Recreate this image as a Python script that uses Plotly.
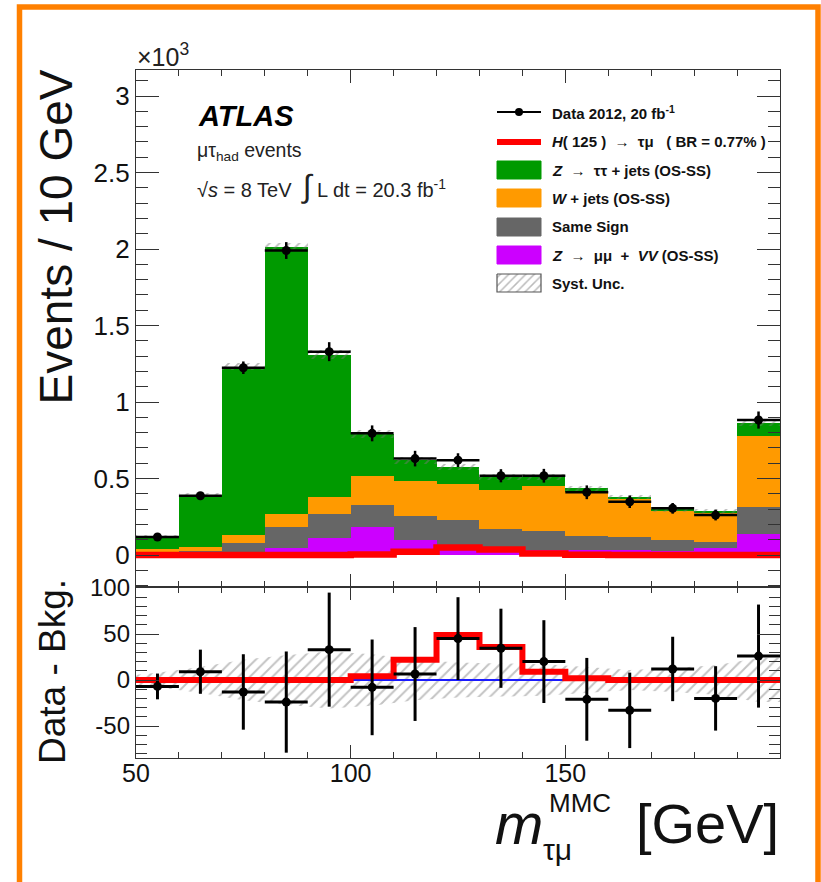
import plotly.graph_objects as go
import numpy as np

# ---------------- data ----------------
bin_edges = [50, 60, 70, 80, 90, 100, 110, 120, 130, 140, 150, 160, 170, 180, 190, 200]
# events x 10^3
data_k = [0.118, 0.387, 1.224, 1.990, 1.329, 0.795, 0.630, 0.620, 0.518, 0.518, 0.410, 0.348, 0.305, 0.261, 0.882]
zmumu_vv = [0.005, 0.005, 0.010, 0.045, 0.110, 0.180, 0.100, 0.060, 0.040, 0.030, 0.035, 0.030, 0.025, 0.045, 0.140]
same_sign = [0.015, 0.020, 0.070, 0.140, 0.155, 0.145, 0.155, 0.170, 0.130, 0.130, 0.090, 0.085, 0.075, 0.040, 0.175]
wjets = [0.020, 0.025, 0.050, 0.080, 0.115, 0.190, 0.230, 0.235, 0.255, 0.290, 0.290, 0.255, 0.190, 0.195, 0.460]
ztautau = [0.085, 0.340, 1.100, 1.750, 0.930, 0.275, 0.135, 0.110, 0.085, 0.060, 0.020, 0.010, 0.005, 0.005, 0.090]
# events
signal = [0, 0, 0, 0, 0, 4, 22, 49, 36, 9, 2, 0, 0, 0, 0]
data_minus_bkg = [-7, 9, -13, -24, 33, -8, 6.5, 45, 34.5, 20, -21, -33, 12, -20, 26]
data_minus_bkg_err = [14, 24, 41, 55, 62, 52, 51, 45, 43, 45, 45, 41, 35, 35, 56]
syst_unc = [8, 14, 22, 27, 31, 28, 22, 19, 18, 17, 14, 11, 13, 16, 24]
blue_range = [100, 150]

legend_labels = [
    "Data 2012, 20 fb<sup>-1</sup>",
    "<i>H</i>( 125 )  →  τμ   ( BR = 0.77% )",
    "<i>Z</i>  →  ττ + jets (OS-SS)",
    "<i>W</i> + jets (OS-SS)",
    "Same Sign",
    "<i>Z</i>  →  μμ  +  <i>VV</i> (OS-SS)",
    "Syst. Unc.",
]

GREEN = "#009a00"
ORANGE = "#ff9a00"
GRAY = "#666666"
MAGENTA = "#cc00ff"
RED = "#ff0000"
FONT = "Liberation Sans"

# ---------------- derived ----------------
edges = np.array(bin_edges, float)
centers = (edges[:-1] + edges[1:]) / 2
widths = np.diff(edges)
comps = [(zmumu_vv, MAGENTA), (same_sign, GRAY), (wjets, ORANGE), (ztautau, GREEN)]
total = np.sum([np.array(c[0]) for c in comps], axis=0)
syst_k = np.array(syst_unc) / 1000.0
err_k = np.array(data_minus_bkg_err) / 1000.0

# pixel geometry of the page
W, H = 821, 882
PL, PR, PT, PB = 136, 780, 70, 758
SPLIT = 587


def xp(px):
    return (px - PL) / (PR - PL)


def yp(py):
    return (PB - py) / (PB - PT)


fig = go.Figure()

# ---------------- main panel ----------------
base = np.zeros(len(centers))
for vals, col in comps:
    fig.add_trace(go.Bar(x=centers, y=vals, base=base.copy(), width=widths,
                         marker=dict(color=col, line=dict(width=0)),
                         xaxis="x", yaxis="y", showlegend=False))
    base = base + np.array(vals)

fig.add_trace(go.Bar(x=centers, y=2 * syst_k, base=total - syst_k, width=widths,
                     marker=dict(color="rgba(0,0,0,0)", line=dict(width=0),
                                 pattern=dict(shape="/", fgcolor="#777", size=7, solidity=0.25,
                                              bgcolor="rgba(0,0,0,0)")),
                     xaxis="x", yaxis="y", showlegend=False))

sig_k = np.array(signal) / 1000.0
fig.add_trace(go.Scatter(x=edges, y=np.append(sig_k, sig_k[-1]), mode="lines",
                         line=dict(color=RED, width=6.5, shape="hv"),
                         xaxis="x", yaxis="y", showlegend=False))

fig.add_trace(go.Scatter(x=centers, y=data_k, mode="markers",
                         marker=dict(color="black", size=9),
                         error_x=dict(type="data", array=widths / 2, color="black", thickness=2.5, width=0),
                         error_y=dict(type="data", array=err_k, color="black", thickness=2.5, width=0),
                         xaxis="x", yaxis="y", showlegend=False))

# ---------------- ratio panel ----------------
band_x = np.concatenate([[edges[0]], centers, [edges[-1]]])
band_s = np.concatenate([[syst_unc[0] * 0.7], syst_unc, [syst_unc[-1]]])
fig.add_trace(go.Scatter(x=np.concatenate([band_x, band_x[::-1]]),
                         y=np.concatenate([band_s, -band_s[::-1]]),
                         mode="lines", fill="toself", line=dict(width=0),
                         fillcolor="rgba(0,0,0,0)",
                         fillpattern=dict(shape="/", fgcolor="#888", size=8, solidity=0.25,
                                          bgcolor="rgba(0,0,0,0)"),
                         xaxis="x2", yaxis="y2", showlegend=False))

fig.add_trace(go.Scatter(x=blue_range, y=[0, 0], mode="lines",
                         line=dict(color="#1a1aff", width=2),
                         xaxis="x2", yaxis="y2", showlegend=False))

fig.add_trace(go.Scatter(x=edges, y=np.append(signal, signal[-1]), mode="lines",
                         line=dict(color=RED, width=6, shape="hv"),
                         xaxis="x2", yaxis="y2", showlegend=False))

fig.add_trace(go.Scatter(x=centers, y=data_minus_bkg, mode="markers",
                         marker=dict(color="black", size=9),
                         error_x=dict(type="data", array=widths / 2, color="black", thickness=3, width=0),
                         error_y=dict(type="data", array=data_minus_bkg_err, color="black", thickness=3, width=0),
                         xaxis="x2", yaxis="y2", showlegend=False))

# ---------------- legend (drawn in a pixel-coordinate overlay axis) ----------------
LX0, LX1, LTX = 497, 541, 550
rows = [112, 142, 170, 198, 227, 255, 283]
BH = 9
fig.add_trace(go.Scatter(x=[LX0, LX1], y=[rows[0], rows[0]], mode="lines",
                         line=dict(color="black", width=2), xaxis="x3", yaxis="y3", showlegend=False))
fig.add_trace(go.Scatter(x=[(LX0 + LX1) / 2], y=[rows[0]], mode="markers",
                         marker=dict(color="black", size=8), xaxis="x3", yaxis="y3", showlegend=False))
fig.add_trace(go.Scatter(x=[LX0, LX1], y=[rows[1], rows[1]], mode="lines",
                         line=dict(color=RED, width=6), xaxis="x3", yaxis="y3", showlegend=False))
for r, col in zip(rows[2:6], [GREEN, ORANGE, GRAY, MAGENTA]):
    fig.add_trace(go.Scatter(x=[LX0, LX1, LX1, LX0, LX0], y=[r - BH, r - BH, r + BH, r + BH, r - BH],
                             mode="lines", fill="toself", fillcolor=col, line=dict(color=col, width=1),
                             xaxis="x3", yaxis="y3", showlegend=False))
r = rows[6]
fig.add_trace(go.Scatter(x=[LX0, LX1, LX1, LX0, LX0], y=[r - BH, r - BH, r + BH, r + BH, r - BH],
                         mode="lines", fill="toself", fillcolor="rgba(0,0,0,0)",
                         fillpattern=dict(shape="/", fgcolor="#777", size=6, solidity=0.25,
                                          bgcolor="rgba(0,0,0,0)"),
                         line=dict(color="#555", width=1.2),
                         xaxis="x3", yaxis="y3", showlegend=False))

annotations = []
for r, t in zip(rows, legend_labels):
    annotations.append(dict(x=xp(LTX), y=yp(r), xref="paper", yref="paper", text=t, showarrow=False,
                            xanchor="left", yanchor="middle",
                            font=dict(family=FONT, size=15, color="#111", weight="bold")))

# ATLAS labels
annotations += [
    dict(x=xp(196), y=yp(116), text="<b><i>ATLAS</i></b>", xanchor="left", yanchor="middle",
         font=dict(family=FONT, size=29, color="black")),
    dict(x=xp(195), y=yp(151), text="μτ<sub>had</sub> events", xanchor="left", yanchor="middle",
         font=dict(family=FONT, size=19.5, color="#222")),
    dict(x=xp(195), y=yp(186),
         text="√<i>s</i> = 8 TeV  <span style='font-size:32px'>∫</span> L dt = 20.3 fb<sup>-1</sup>",
         xanchor="left", yanchor="middle", font=dict(family=FONT, size=20, color="#222")),
    dict(x=xp(135), y=yp(55), text="×10<sup>3</sup>", xanchor="left", yanchor="middle",
         font=dict(family=FONT, size=25, color="#222")),
    # axis titles
    dict(x=xp(55), y=yp(68), text="Events / 10 GeV", textangle=-90, xanchor="center", yanchor="top",
         font=dict(family=FONT, size=46, color="#111")),
    dict(x=xp(52), y=yp(672), text="Data - Bkg.", textangle=-90, xanchor="center", yanchor="middle",
         font=dict(family=FONT, size=37, color="#111")),
    dict(x=xp(781), y=yp(823), text="[GeV]", xanchor="right", yanchor="middle",
         font=dict(family=FONT, size=56, color="#111")),
    dict(x=xp(493), y=yp(823), text="<i>m</i>", xanchor="left", yanchor="middle",
         font=dict(family=FONT, size=58, color="#111")),
    dict(x=xp(547), y=yp(803), text="MMC", xanchor="left", yanchor="middle",
         font=dict(family=FONT, size=26, color="#111")),
    dict(x=xp(541), y=yp(849), text="τμ", xanchor="left", yanchor="middle",
         font=dict(family=FONT, size=30, color="#111")),
]
for a in annotations:
    a.setdefault("xref", "paper")
    a.setdefault("yref", "paper")
    a.setdefault("showarrow", False)

split_frac = yp(SPLIT)
AX = "#333"
common_x = dict(range=[50, 200], showgrid=False, zeroline=False, showline=True, linecolor=AX, linewidth=1.3,
                mirror="allticks", ticks="inside", ticklen=13, tickcolor=AX, tickwidth=1.2,
                tickvals=[50, 100, 150],
                minor=dict(dtick=10, ticks="inside", ticklen=6, tickcolor=AX, tickwidth=1.2),
                tickfont=dict(family=FONT, size=25, color="#111"))

fig.update_layout(
    width=W, height=H,
    margin=dict(l=PL, r=W - PR, t=PT, b=H - PB),
    paper_bgcolor="white", plot_bgcolor="rgba(0,0,0,0)",
    barmode="overlay", bargap=0,
    showlegend=False,
    xaxis=dict(**common_x, domain=[0, 1], anchor="y", showticklabels=False),
    yaxis=dict(domain=[split_frac, 1], anchor="x", range=[-(SPLIT - 555) / 153, (555 - PT) / 153],
               showgrid=False, zeroline=False, showline=True, linecolor=AX, linewidth=1.3,
               mirror="allticks", ticks="inside", ticklen=23, tickcolor=AX, tickwidth=1.2,
               tickvals=[0, 0.5, 1, 1.5, 2, 2.5, 3], ticktext=["0", "0.5", "1", "1.5", "2", "2.5", "3"],
               minor=dict(dtick=0.1, ticks="inside", ticklen=12, tickcolor=AX, tickwidth=1.2),
               tickfont=dict(family=FONT, size=26, color="#111")),
    xaxis2=dict(**common_x, domain=[0, 1], anchor="y2", showticklabels=True, ticklabelstandoff=-7),
    yaxis2=dict(domain=[0, split_frac], anchor="x2", range=[-(PB - 680) / 0.92, (680 - SPLIT) / 0.92],
                showgrid=False, zeroline=False, showline=True, linecolor=AX, linewidth=1.3,
                mirror="allticks", ticks="inside", ticklen=23, tickcolor=AX, tickwidth=1.2,
                tickvals=[-50, 0, 50, 100], ticktext=["-50", "0", "50", "100"],
                minor=dict(dtick=10, ticks="inside", ticklen=11, tickcolor=AX, tickwidth=1.2),
                tickfont=dict(family=FONT, size=24, color="#111")),
    xaxis3=dict(domain=[0, 1], anchor="y3", range=[PL, PR], visible=False, fixedrange=True),
    yaxis3=dict(domain=[0, 1], anchor="x3", range=[PB, PT], visible=False, fixedrange=True),
    annotations=annotations,
    shapes=[dict(type="rect", xref="paper", yref="paper",
                 x0=xp(19.5), x1=xp(818), y0=yp(905), y1=yp(7),
                 line=dict(color="#ff8000", width=5.5), fillcolor="rgba(0,0,0,0)", layer="above")],
)

fig.write_html("out.html")
